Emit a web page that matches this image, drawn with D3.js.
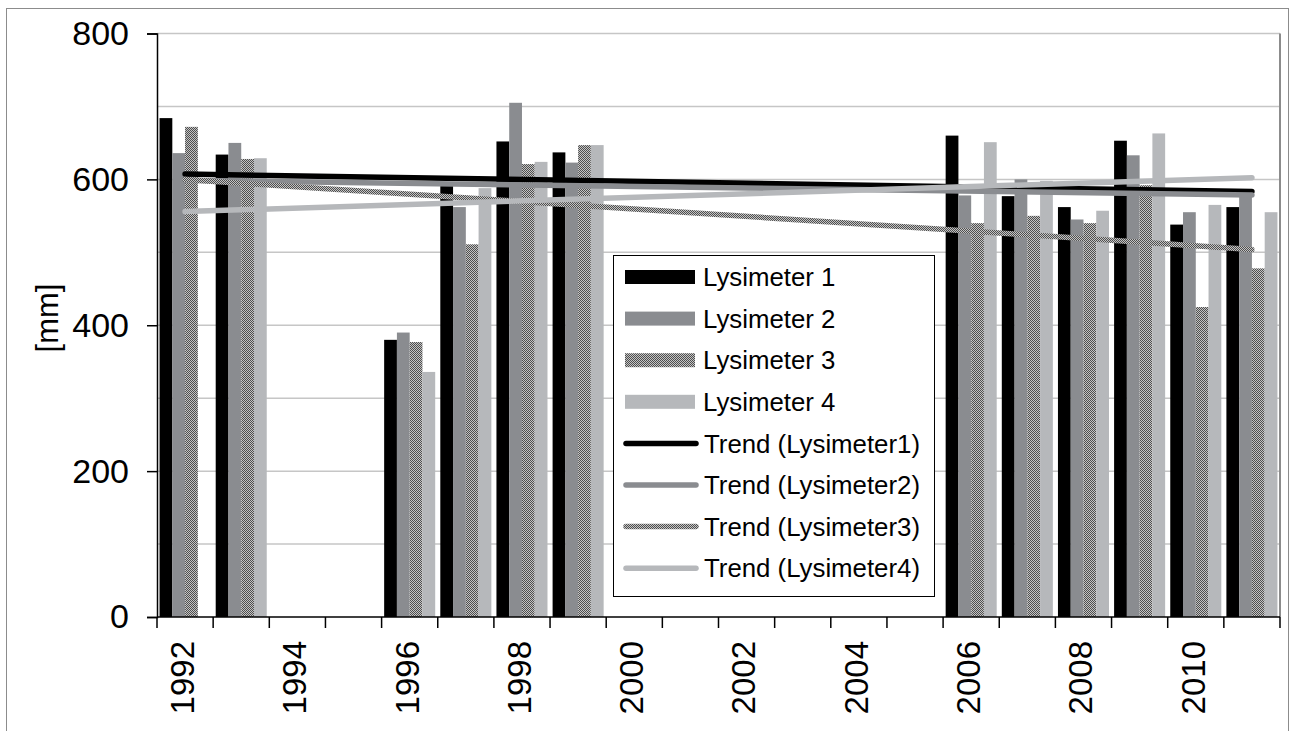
<!DOCTYPE html>
<html>
<head>
<meta charset="utf-8">
<script src="https://cdn.jsdelivr.net/npm/d3@7"></script>
<style>
  html, body { margin: 0; padding: 0; background: #fff; }
  svg { display: block; font-family: "Liberation Sans", Arial, sans-serif; }
</style>
</head>
<body>
<svg id="chart" width="1290" height="731"></svg>
<script>
// Annual values per lysimeter [mm]; null = no measurement that year
const years = ["1992","1993","1994","1995","1996","1997","1998","1999","2000","2001",
               "2002","2003","2004","2005","2006","2007","2008","2009","2010","2011"];
const lysimeter1 = [684, 634, null, null, 380, 595, 652, 637, null, null, null, null, null, null, 660, 577, 562, 653, 538, 562];
const lysimeter2 = [636, 650, null, null, 390, 562, 705, 623, null, null, null, null, null, null, 578, 600, 545, 633, 555, 578];
const lysimeter3 = [672, 628, null, null, 377, 511, 621, 647, null, null, null, null, null, null, 540, 550, 540, 592, 425, 478];
const lysimeter4 = [null, 629, null, null, 336, 588, 624, 647, null, null, null, null, null, null, 651, 598, 557, 663, 565, 555];
const seriesNames = ["Lysimeter 1", "Lysimeter 2", "Lysimeter 3", "Lysimeter 4"];
const trendNames = ["Trend (Lysimeter1)", "Trend (Lysimeter2)", "Trend (Lysimeter3)", "Trend (Lysimeter4)"];
const yTicks = [0, 200, 400, 600, 800];
const yGrid = [100, 200, 300, 400, 500, 600, 700, 800];
const xLabelYears = ["1992","1994","1996","1998","2000","2002","2004","2006","2008","2010"];

const series = [lysimeter1, lysimeter2, lysimeter3, lysimeter4];
const fills = ["#000000", "#8a8c90", "url(#checker)", "#b6b8bb"];

const svg = d3.select("#chart");

// checkered fill used for Lysimeter 3
const defs = svg.append("defs");
const pat = defs.append("pattern").attr("id", "checker")
  .attr("patternUnits", "userSpaceOnUse").attr("width", 2).attr("height", 2);
pat.append("rect").attr("width", 2).attr("height", 2).attr("fill", "#c4c4c4");
pat.append("rect").attr("width", 1).attr("height", 1).attr("fill", "#4e4e4e");
pat.append("rect").attr("x", 1).attr("y", 1).attr("width", 1).attr("height", 1).attr("fill", "#4e4e4e");

// outer frame
svg.append("rect").attr("x", 6.5).attr("y", 8.5).attr("width", 1282).attr("height", 740)
  .attr("fill", "none").attr("stroke", "#8c8c8c").attr("stroke-width", 1);

const plotLeft = 157, plotRight = 1280, plotTop = 33.5, plotBottom = 617;

const x = d3.scaleBand().domain(years).range([plotLeft, plotRight]).paddingInner(0).paddingOuter(0);
const xs = d3.scaleBand().domain(d3.range(4)).range([0, x.bandwidth()]).paddingInner(0).paddingOuter(0.2);
const y = d3.scaleLinear().domain([0, 800]).range([plotBottom, plotTop]);

// gridlines
svg.append("g").selectAll("line").data(yGrid).join("line")
  .attr("x1", plotLeft).attr("x2", plotRight)
  .attr("y1", d => y(d)).attr("y2", d => y(d))
  .attr("stroke", "#c6c6c6").attr("stroke-width", 1.5);

// plot area right edge
svg.append("line").attr("x1", plotRight).attr("x2", plotRight).attr("y1", plotTop).attr("y2", plotBottom)
  .attr("stroke", "#8c8c8c").attr("stroke-width", 2);

// bars
series.forEach((vals, si) => {
  svg.append("g").selectAll("rect")
    .data(years.map((yr, i) => ({ yr, v: vals[i] })).filter(d => d.v != null))
    .join("rect")
    .attr("x", d => x(d.yr) + xs(si))
    .attr("y", d => y(d.v))
    .attr("width", xs.bandwidth())
    .attr("height", d => y(0) - y(d.v))
    .attr("fill", fills[si]);
});

// linear least-squares trend over category position
function trend(vals) {
  const pts = vals.map((v, i) => [i + 1, v]).filter(p => p[1] != null);
  const mx = d3.mean(pts, p => p[0]), my = d3.mean(pts, p => p[1]);
  const b = d3.sum(pts, p => (p[0] - mx) * (p[1] - my)) / d3.sum(pts, p => (p[0] - mx) ** 2);
  const a = my - b * mx;
  return [[1, a + b], [years.length, a + b * years.length]];
}
const trendStroke = ["#000000", "#8a8c90", "url(#checker)", "#b6b8bb"];
const xc = i => x(years[i - 1]) + x.bandwidth() / 2;
series.forEach((vals, si) => {
  const t = trend(vals);
  svg.append("line")
    .attr("x1", xc(t[0][0])).attr("y1", y(t[0][1]))
    .attr("x2", xc(t[1][0])).attr("y2", y(t[1][1]))
    .attr("stroke", trendStroke[si]).attr("stroke-width", 5.5).attr("stroke-linecap", "round");
});

// y axis
const yAxis = svg.append("g").attr("transform", `translate(${plotLeft},0)`)
  .call(d3.axisLeft(y).tickValues(yTicks).tickSize(10).tickPadding(18).tickFormat(d3.format("d")));
yAxis.select(".domain").attr("stroke", "#000").attr("stroke-width", 1.5);
yAxis.selectAll(".tick line").attr("stroke", "#000").attr("stroke-width", 1.5);
yAxis.selectAll(".tick text").attr("font-size", 34).attr("fill", "#000")
  .attr("font-family", "Liberation Sans, Arial, sans-serif");

// x axis: ticks on category boundaries
svg.append("line").attr("x1", plotLeft).attr("x2", plotRight).attr("y1", plotBottom).attr("y2", plotBottom)
  .attr("stroke", "#000").attr("stroke-width", 1.5);
svg.append("g").selectAll("line").data(d3.range(years.length + 1)).join("line")
  .attr("x1", i => i < years.length ? x(years[i]) : plotRight)
  .attr("x2", i => i < years.length ? x(years[i]) : plotRight)
  .attr("y1", plotBottom).attr("y2", plotBottom + 11)
  .attr("stroke", "#000").attr("stroke-width", 1.5);
svg.append("g").selectAll("text").data(xLabelYears).join("text")
  .attr("transform", d => `translate(${x(d) + x.bandwidth() / 2 - 3},${plotBottom + 24}) rotate(-90)`)
  .attr("text-anchor", "end").attr("dy", "0.36em")
  .attr("font-size", 33).attr("fill", "#000")
  .text(d => d);

// y axis title
svg.append("text").attr("transform", "translate(47,318) rotate(-90)")
  .attr("text-anchor", "middle").attr("dy", "0.36em")
  .attr("font-size", 31).attr("fill", "#000").text("[mm]");

// legend
const lg = svg.append("g");
lg.append("rect").attr("x", 613.5).attr("y", 255.5).attr("width", 321).attr("height", 341)
  .attr("fill", "#fff").attr("stroke", "#000").attr("stroke-width", 1);
const rowY = i => 277 + i * 41.6;
seriesNames.forEach((n, i) => {
  lg.append("rect").attr("x", 625).attr("y", rowY(i) - 7).attr("width", 70).attr("height", 14)
    .attr("fill", fills[i]);
  lg.append("text").attr("x", 703).attr("y", rowY(i)).attr("dy", "0.36em")
    .attr("font-size", 25.8).attr("fill", "#000").text(n);
});
trendNames.forEach((n, i) => {
  const ry = rowY(i + 4);
  lg.append("line").attr("x1", 626).attr("x2", 696).attr("y1", ry).attr("y2", ry)
    .attr("stroke", trendStroke[i]).attr("stroke-width", 5.5).attr("stroke-linecap", "round");
  lg.append("text").attr("x", 704).attr("y", ry).attr("dy", "0.36em")
    .attr("font-size", 25.8).attr("fill", "#000").text(n);
});
</script>
</body>
</html>
